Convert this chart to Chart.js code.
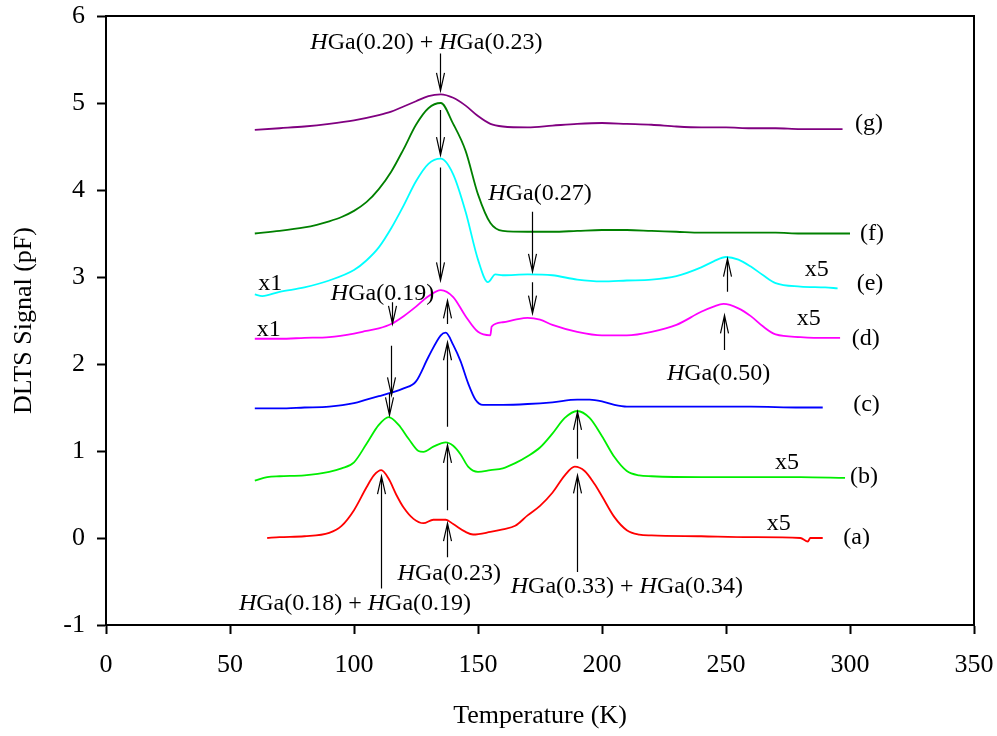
<!DOCTYPE html>
<html>
<head>
<meta charset="utf-8">
<script src="https://cdn.jsdelivr.net/npm/chart.js@4"></script>
<style>
  html, body { margin: 0; padding: 0; background: #fff; }
</style>
</head>
<body>
<canvas id="dlts" width="997" height="736"></canvas>
<script>
// temperatures (K) and DLTS signal (pF) for each spectrum
const tA = [65,70,80,90,95,100,105,108,111,114,117,120,124,128,132,137,140,145,148,155,160,165,170,175,180,185,189,193,197,200,205,210,215,220,240,260,280,283,284,289];
const sA = [0.00,0.01,0.02,0.06,0.14,0.32,0.58,0.72,0.78,0.68,0.50,0.35,0.22,0.17,0.21,0.21,0.16,0.07,0.04,0.07,0.10,0.14,0.26,0.37,0.52,0.72,0.82,0.77,0.62,0.48,0.24,0.09,0.04,0.03,0.02,0.01,0.00,-0.04,0.00,0.00];

const tB = [60,65,70,80,90,95,100,105,110,114,118,122,126,128,132,137,140,143,146,150,155,160,165,170,175,180,185,190,195,200,205,210,215,220,240,260,280,298];
const sB = [0.66,0.70,0.71,0.72,0.76,0.80,0.87,1.08,1.30,1.39,1.30,1.14,1.00,0.99,1.05,1.10,1.06,0.96,0.82,0.76,0.78,0.80,0.86,0.94,1.04,1.20,1.38,1.46,1.38,1.17,0.93,0.77,0.72,0.71,0.70,0.70,0.70,0.69];

const tC = [60,70,80,90,100,105,110,115,120,125,130,135,137,140,143,146,149,152,160,170,180,190,195,200,205,210,220,240,260,280,289];
const sC = [1.49,1.49,1.50,1.51,1.55,1.59,1.63,1.67,1.72,1.80,2.08,2.33,2.36,2.22,2.03,1.78,1.59,1.53,1.53,1.54,1.56,1.59,1.59,1.57,1.53,1.51,1.51,1.51,1.51,1.50,1.50];

const tD = [60,70,80,90,100,105,110,115,120,125,130,135,140,145,150,155,155.5,160,165,170,175,180,190,200,210,220,230,240,245,249,255,260,265,270,280,290,296];
const sD = [2.29,2.29,2.30,2.31,2.35,2.38,2.41,2.46,2.55,2.66,2.78,2.85,2.77,2.55,2.37,2.33,2.43,2.48,2.51,2.53,2.51,2.45,2.37,2.33,2.33,2.37,2.45,2.60,2.66,2.69,2.64,2.55,2.43,2.34,2.31,2.30,2.30];

const tE = [60,63,70,80,90,100,105,110,115,120,125,130,135,140,145,150,154,157,160,170,180,190,200,210,220,230,240,245,250,255,260,265,270,280,290,295];
const sE = [2.80,2.78,2.83,2.88,2.96,3.08,3.19,3.34,3.56,3.82,4.10,4.30,4.36,4.18,3.75,3.20,2.94,3.03,3.02,3.03,3.02,2.97,2.95,2.96,2.97,3.01,3.11,3.18,3.23,3.20,3.12,3.02,2.93,2.89,2.88,2.87];

const tF = [60,70,80,85,90,95,100,105,110,115,120,125,130,135,140,145,150,155,160,170,180,190,200,210,220,230,240,250,260,270,280,290,300];
const sF = [3.50,3.53,3.57,3.60,3.64,3.69,3.76,3.86,4.01,4.21,4.47,4.75,4.94,5.00,4.76,4.45,3.95,3.62,3.53,3.52,3.52,3.53,3.54,3.54,3.53,3.52,3.51,3.51,3.51,3.51,3.50,3.50,3.50];

const tG = [60,70,80,90,100,110,115,120,125,130,135,140,145,150,155,160,170,180,190,200,210,220,230,240,250,260,270,280,290,297];
const sG = [4.69,4.71,4.73,4.76,4.80,4.86,4.90,4.96,5.02,5.08,5.10,5.06,4.97,4.85,4.76,4.73,4.72,4.74,4.76,4.77,4.76,4.75,4.73,4.72,4.72,4.71,4.71,4.70,4.70,4.70];

const xTicks = [0, 50, 100, 150, 200, 250, 300, 350];
const yTicks = [-1, 0, 1, 2, 3, 4, 5, 6];

// arrows: temperature, tail value, tip value
const arrowT    = [134.7, 134.7, 134.7, 137.3, 137.3, 137.3, 137.3, 115.5, 114.9, 114.2, 110.7, 189.8, 189.8, 171.9, 171.9, 250.3, 249.0];
const arrowFrom = [5.57, 4.92, 4.26, 2.46, 1.28, 0.32, -0.22, 2.71, 2.21, 1.66, -0.58, 0.91, -0.39, 3.75, 2.94, 2.83, 2.16];
const arrowTo   = [5.14, 4.40, 2.96, 2.73, 2.25, 1.07, 0.17, 2.46, 1.64, 1.41, 0.71, 1.45, 0.72, 3.06, 2.58, 3.21, 2.56];

// level names (centred)
const noteText = ['HGa(0.20) + HGa(0.23)', 'HGa(0.27)', 'HGa(0.19)', 'HGa(0.50)', 'HGa(0.23)', 'HGa(0.18) + HGa(0.19)', 'HGa(0.33) + HGa(0.34)'];
const noteT    = [129.2, 175, 111.5, 247, 138.4, 100.4, 210];
const noteS    = [5.69, 3.96, 2.81, 1.89, -0.41, -0.75, -0.56];

// curve tags and gain marks (left aligned)
const tagText = ['(a)', '(b)', '(c)', '(d)', '(e)', '(f)', '(g)', 'x1', 'x1', 'x5', 'x5', 'x5', 'x5'];
const tagT    = [297.3, 300, 301.3, 300.7, 302.7, 304, 302, 61.4, 60.8, 281.8, 278.5, 269.8, 266.4];
const tagS    = [0.0, 0.70, 1.53, 2.29, 2.92, 3.50, 4.76, 2.92, 2.39, 3.08, 2.52, 0.86, 0.17];

const curves = [
  [tA, sA, '#ff0000'],
  [tB, sB, '#00ee00'],
  [tC, sC, '#0000ff'],
  [tD, sD, '#ff00ff'],
  [tE, sE, '#00ffff'],
  [tF, sF, '#008000'],
  [tG, sG, '#800080']
];

const serif = '"Liberation Serif", "Times New Roman", serif';
Chart.defaults.font.family = serif;
Chart.defaults.color = '#000';

function drawNote(ctx, str, px, py, centred) {
  const parts = str.split(/(H)/).filter(s => s.length);
  const fonts = parts.map(s => (s === 'H' ? 'italic ' : '') + '24px ' + serif);
  let w = 0;
  parts.forEach((s, i) => { ctx.font = fonts[i]; w += ctx.measureText(s).width; });
  let cx = centred ? px - w / 2 : px;
  parts.forEach((s, i) => {
    ctx.font = fonts[i];
    ctx.fillText(s, cx, py);
    cx += ctx.measureText(s).width;
  });
}

// let the layout padding alone decide where the plot box sits
function noScalePadding(s) {
  s.paddingTop = 0;
  s.paddingBottom = 0;
  s.paddingLeft = 0;
  s.paddingRight = 0;
}

const notesPlugin = {
  id: 'notes',
  afterDraw(chart) {
    const ctx = chart.ctx;
    const a = chart.chartArea;
    const x = chart.scales.x, y = chart.scales.y;
    ctx.save();
    // box top and right
    ctx.strokeStyle = '#000';
    ctx.lineWidth = 2;
    ctx.beginPath();
    ctx.moveTo(a.left, a.top);
    ctx.lineTo(a.right, a.top);
    ctx.lineTo(a.right, a.bottom);
    ctx.stroke();

    ctx.lineWidth = 1.2;
    arrowT.forEach((t, i) => {
      const px = Math.round(x.getPixelForValue(t)) + 0.5;
      const p0 = y.getPixelForValue(arrowFrom[i]);
      const p1 = y.getPixelForValue(arrowTo[i]);
      const dir = p1 > p0 ? 1 : -1;
      ctx.beginPath();
      ctx.moveTo(px, p0);
      ctx.lineTo(px, p1);
      ctx.moveTo(px - 4, p1 - dir * 18);
      ctx.lineTo(px, p1);
      ctx.lineTo(px + 4, p1 - dir * 18);
      ctx.stroke();
    });

    ctx.fillStyle = '#000';
    ctx.textAlign = 'left';
    ctx.textBaseline = 'middle';
    noteText.forEach((s, i) => drawNote(ctx, s, x.getPixelForValue(noteT[i]), y.getPixelForValue(noteS[i]), true));
    tagText.forEach((s, i) => drawNote(ctx, s, x.getPixelForValue(tagT[i]), y.getPixelForValue(tagS[i]), false));
    ctx.restore();
  }
};

new Chart(document.getElementById('dlts'), {
  type: 'line',
  data: {
    datasets: curves.map(c => ({
      data: c[0].map((t, i) => ({ x: t, y: c[1][i] })),
      borderColor: c[2],
      borderWidth: 1.8,
      pointRadius: 0,
      cubicInterpolationMode: 'monotone',
      fill: false
    }))
  },
  options: {
    responsive: false,
    animation: false,
    layout: { padding: { left: 0, right: 23, top: 16, bottom: 0 } },
    plugins: { legend: { display: false }, tooltip: { enabled: false } },
    scales: {
      x: {
        type: 'linear',
        min: 0,
        max: 350,
        afterFit(s) { s.height = 111; noScalePadding(s); },
        afterBuildTicks(s) { s.ticks = xTicks.map(v => ({ value: v })); },
        ticks: { color: '#000', font: { size: 26 }, padding: 16, maxRotation: 0 },
        grid: { drawOnChartArea: false, tickLength: 9, tickColor: '#000', tickWidth: 2 },
        border: { color: '#000', width: 2 },
        title: { display: true, text: 'Temperature (K)', color: '#000', font: { size: 26 }, padding: { top: 0, bottom: 4 } }
      },
      y: {
        type: 'linear',
        min: -1,
        max: 6,
        afterFit(s) { s.width = 106; noScalePadding(s); },
        afterBuildTicks(s) { s.ticks = yTicks.map(v => ({ value: v })); },
        ticks: { color: '#000', font: { size: 26 }, padding: 12 },
        grid: { drawOnChartArea: false, tickLength: 9, tickColor: '#000', tickWidth: 2 },
        border: { color: '#000', width: 2 },
        title: { display: true, text: 'DLTS Signal (pF)', color: '#000', font: { size: 26 }, padding: { top: 9, bottom: 0 } }
      }
    }
  },
  plugins: [notesPlugin]
});
</script>
</body>
</html>
